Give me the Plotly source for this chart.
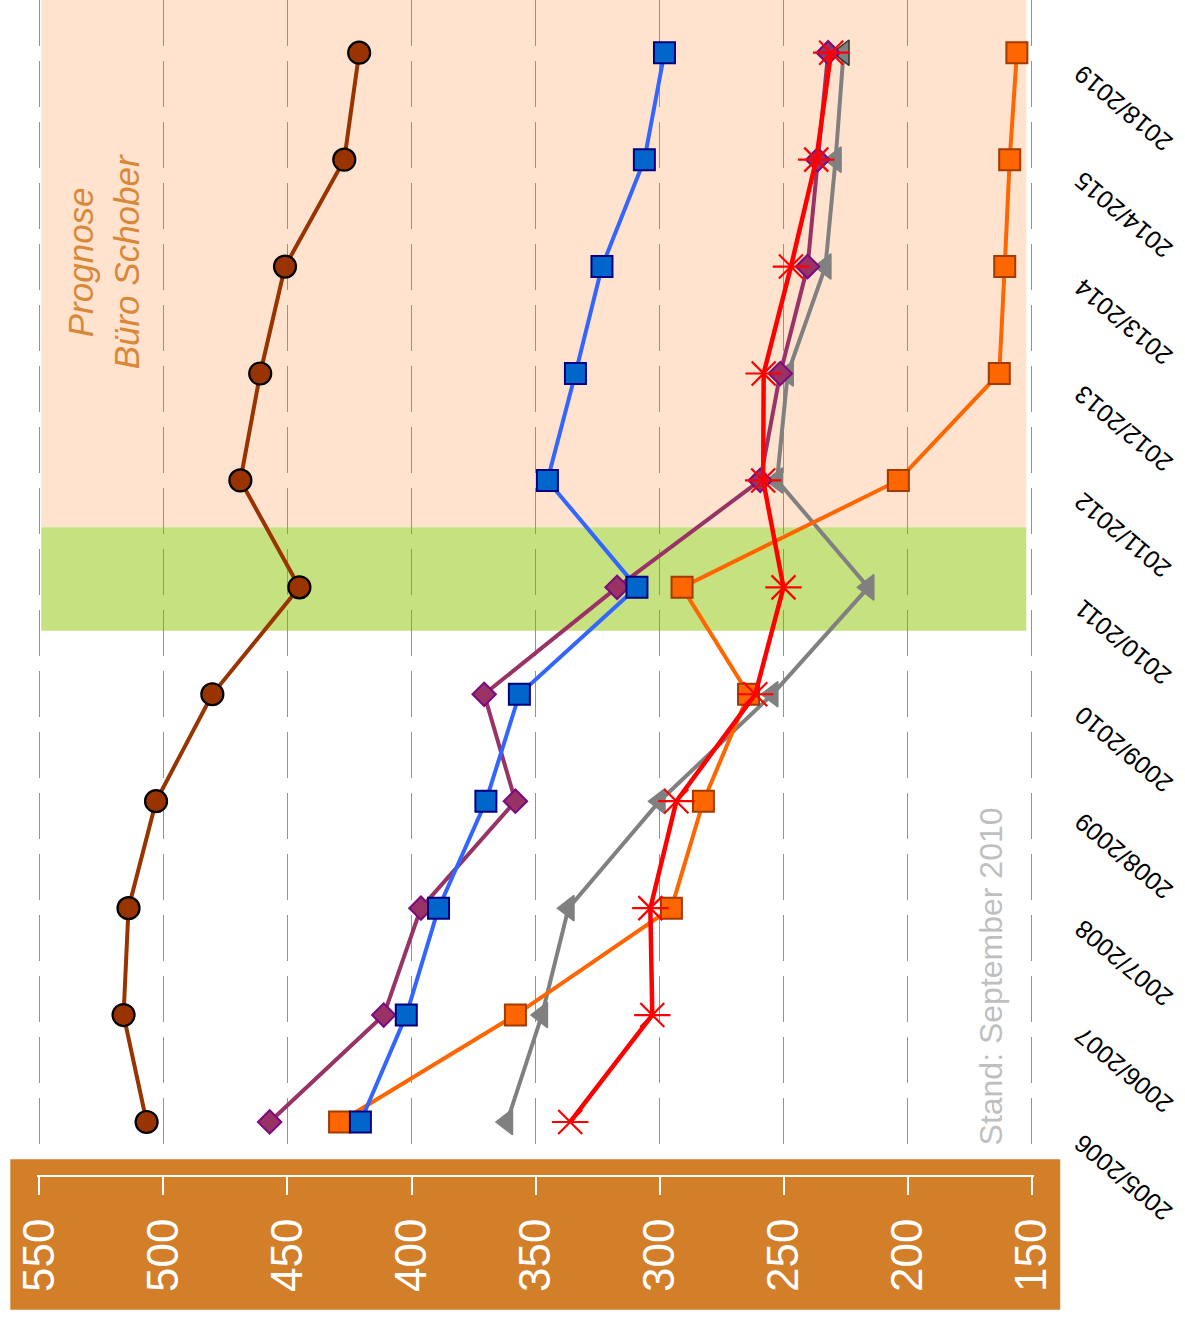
import plotly.graph_objects as go

# ---------------- data ----------------
years = ["2005/2006", "2006/2007", "2007/2008", "2008/2009", "2009/2010",
         "2010/2011", "2011/2012", "2012/2013", "2013/2014", "2014/2015", "2018/2019"]

brown = [506.8, 516.1, 514.1, 503.0, 480.3, 445.2, 469.0, 461.0, 451.0, 427.1, 421.1]
blue = [420.6, 402.1, 389.1, 370.0, 356.5, 309.1, 345.2, 333.9, 323.2, 306.1, 298.0]
purple = [457.2, 411.2, 396.2, 358.1, 370.7, 317.1, 259.4, 251.3, 240.3, 236.2, 232.0]
gray = [361.5, 347.4, 336.7, 300.0, 254.5, 215.8, 252.6, 248.3, 233.1, 229.0, 225.8]
orange = [429.0, 358.1, 295.2, 282.3, 264.1, 290.9, 203.7, 163.0, 160.8, 158.8, 155.9]
red = [336.0, 302.9, 303.7, 293.2, 261.4, 250.0, 258.2, 258.0, 247.0, 236.8, 230.8]

value_ticks = [550, 500, 450, 400, 350, 300, 250, 200, 150]

# ---------------- layout geometry (pixels) ----------------
W, H = 1185, 1317
plot_left, plot_right = 36.7, 1033.8
plot_top, plot_bottom = 0.0, 1159.0
axis_y = 1175.7
paper_h = axis_y - plot_top
paper_w = plot_right - plot_left


def px_x(px):
    return (px - plot_left) / paper_w


def px_y(py):
    return (axis_y - py) / paper_h


idx = list(range(len(years)))

fig = go.Figure()

# gray triangles
fig.add_trace(go.Scatter(
    x=gray, y=idx, mode="lines+markers",
    line=dict(color="#808080", width=4),
    marker=dict(symbol="triangle-left", size=22, color="#808080",
                line=dict(color=["#808080"] * 10 + ["#333333"], width=1.5)),
    showlegend=False))

# orange squares
fig.add_trace(go.Scatter(
    x=orange, y=idx, mode="lines+markers",
    line=dict(color="#FF6600", width=4),
    marker=dict(symbol="square", size=21, color="#FF6600",
                line=dict(color="#A33A00", width=2)),
    showlegend=False))

# purple diamonds
fig.add_trace(go.Scatter(
    x=purple, y=idx, mode="lines+markers",
    line=dict(color="#993366", width=4),
    marker=dict(symbol="diamond", size=18, color="#993366",
                line=dict(color="#7A0A80", width=2)),
    showlegend=False))

# blue squares
fig.add_trace(go.Scatter(
    x=blue, y=idx, mode="lines+markers",
    line=dict(color="#3366FF", width=4),
    marker=dict(symbol="square", size=21, color="#0066CC",
                line=dict(color="#000080", width=2)),
    showlegend=False))

# brown circles
fig.add_trace(go.Scatter(
    x=brown, y=idx, mode="lines+markers",
    line=dict(color="#993300", width=4),
    marker=dict(symbol="circle", size=22, color="#993300",
                line=dict(color="#000000", width=2.2)),
    showlegend=False))

# red stars (line + X arms + horizontal arm)
fig.add_trace(go.Scatter(
    x=red, y=idx, mode="lines+markers",
    line=dict(color="#FF0000", width=4.5),
    marker=dict(symbol="x-thin-open", size=24, color="#FF0000",
                line=dict(color="#FF0000", width=2.2)),
    showlegend=False))
fig.add_trace(go.Scatter(
    x=red, y=idx, mode="markers",
    marker=dict(symbol="line-ew-open", size=26, color="#FF0000",
                line=dict(color="#FF0000", width=2.2)),
    showlegend=False))

# ---------------- background bands ----------------
fig.add_shape(type="rect", xref="x", yref="y", layer="below",
              x0=549.3, x1=152.1, y0=5.563, y1=11.0,
              fillcolor="#FFE3CE", line=dict(width=0))
fig.add_shape(type="rect", xref="x", yref="y", layer="below",
              x0=549.3, x1=152.1, y0=4.593, y1=5.563,
              fillcolor="#C6E17F", line=dict(width=0))

# orange axis band
fig.add_shape(type="rect", xref="paper", yref="paper", layer="below",
              x0=px_x(10), x1=px_x(1060), y0=px_y(1309.5), y1=px_y(1159),
              fillcolor="#D37E28", line=dict(width=0))

# ---------------- category labels (rotated, upside down) ----------------
for i, yr in zip(idx, years):
    fig.add_annotation(xref="paper", yref="y", x=px_x(1066), y=i,
                       xanchor="left", yanchor="top", yshift=-4,
                       textangle=-140, text=yr, showarrow=False,
                       font=dict(family="Liberation Sans, Arial", size=25, color="black"))

# ---------------- annotations ----------------
fig.add_annotation(xref="paper", yref="paper", x=px_x(103), y=px_y(262),
                   xanchor="center", yanchor="middle", textangle=-90,
                   text="<i>Prognose<br>Büro Schober</i>", showarrow=False,
                   align="center",
                   font=dict(family="Liberation Sans, Arial", size=35, color="#D9883A"))
fig.add_annotation(xref="paper", yref="paper", x=px_x(991), y=px_y(976),
                   xanchor="center", yanchor="middle", textangle=-90,
                   text="Stand: September 2010", showarrow=False,
                   font=dict(family="Liberation Sans, Arial", size=32, color="#BFBFBF"))

fig.update_layout(
    width=W, height=H,
    margin=dict(l=plot_left, r=W - plot_right, t=plot_top, b=H - axis_y, pad=0),
    paper_bgcolor="white", plot_bgcolor="white",
    showlegend=False,
    xaxis=dict(
        range=[551, 149], tickvals=value_ticks,
        ticktext=[str(v) for v in value_ticks],
        anchor="free", position=0,
        showline=True, linecolor="white", linewidth=2,
        ticks="outside", ticklen=18, tickwidth=2, tickcolor="white",
        tickangle=-90, ticklabelstandoff=6,
        tickfont=dict(family="Liberation Sans, Arial", size=44, color="white"),
        showgrid=True, gridcolor="#D5823A", gridwidth=1.3, griddash="46px,15px",
        zeroline=False, fixedrange=True,
    ),
    yaxis=dict(
        domain=[px_y(plot_bottom), 1],
        range=[-0.349, 10.493],
        tickvals=idx, showticklabels=False,
        showgrid=False, zeroline=False, showline=False, ticks="",
        fixedrange=True,
    ),
)

fig.write_html("out.html")
